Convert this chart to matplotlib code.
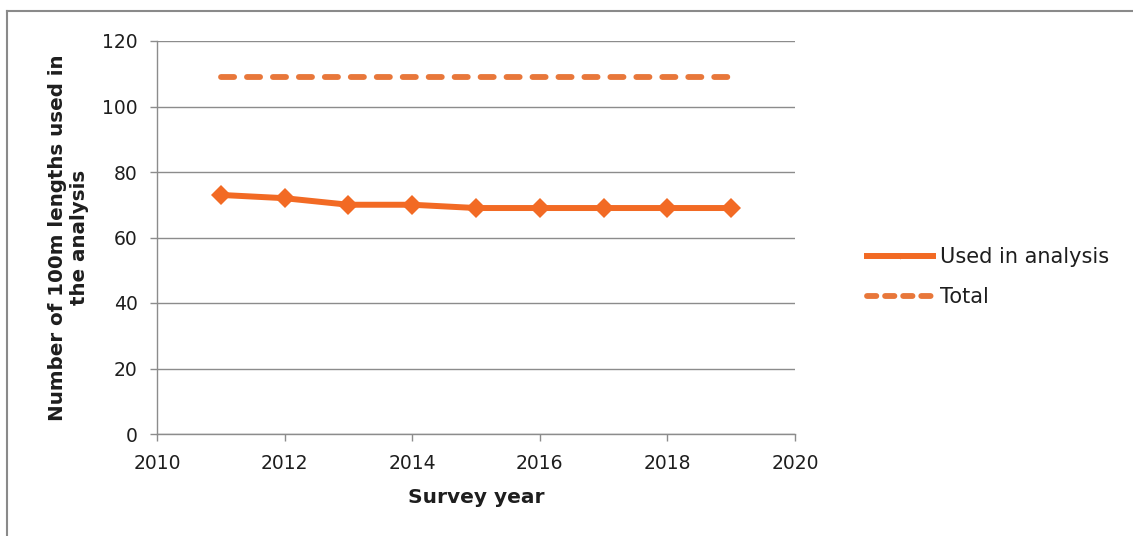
import matplotlib
matplotlib.use("Agg")
import matplotlib.pyplot as plt
from matplotlib.lines import Line2D

# Survey data
years = [2011, 2012, 2013, 2014, 2015, 2016, 2017, 2018, 2019]
used_in_analysis = [73, 72, 70, 70, 69, 69, 69, 69, 69]
total_lengths = [109, 109, 109, 109, 109, 109, 109, 109, 109]

x_ticks = [2010, 2012, 2014, 2016, 2018, 2020]
y_ticks = [0, 20, 40, 60, 80, 100, 120]

used_color = "#F26A24"
total_color = "#E8773A"
grid_color = "#8c8c8c"
text_color = "#1e1e1e"

plt.rcParams["font.family"] = ["DejaVu Sans"]

W, H = 1133, 536
fig = plt.figure(figsize=(W / 100, H / 100), dpi=100)
fig.patch.set_facecolor("white")

# Chart border (top and left edges)
fig.add_artist(Line2D([6.5 / W, 6.5 / W], [0, 1 - 11 / H], transform=fig.transFigure,
                      color="#8a8a8a", lw=1.5))
fig.add_artist(Line2D([6.5 / W, 1], [1 - 11 / H, 1 - 11 / H], transform=fig.transFigure,
                      color="#8a8a8a", lw=1.5))

ax = fig.add_axes([157 / W, 1 - 434 / H, (795 - 157) / W, (434 - 41) / H])

ax.plot(years, total_lengths, color=total_color, lw=4.2, ls=(0, (2.25, 2.2)),
        dash_capstyle="round", label="Total", zorder=3)
ax.plot(years, used_in_analysis, color=used_color, lw=4.3, marker="D", ms=10,
        markeredgewidth=0, label="Used in analysis", zorder=4)

ax.set_xlim(2010, 2020)
ax.set_ylim(0, 120)
ax.set_xticks(x_ticks)
ax.set_yticks(y_ticks)
ax.tick_params(axis="both", direction="out", length=5, width=1, color=grid_color,
               labelsize=13.5, labelcolor=text_color)
ax.tick_params(axis="x", pad=9.5)
ax.tick_params(axis="y", pad=9)

ax.grid(axis="y", color=grid_color, lw=1)
ax.set_axisbelow(True)
for side in ("top", "right"):
    ax.spines[side].set_visible(False)
for side in ("left", "bottom"):
    ax.spines[side].set_color(grid_color)
    ax.spines[side].set_linewidth(1)

ax.set_xlabel("Survey year", fontsize=14.5, fontweight="bold", color=text_color, labelpad=10.5)
ax.set_ylabel("Number of 100m lengths used in\nthe analysis", fontsize=14.3,
              fontweight="bold", color=text_color, labelpad=9, linespacing=1.2)

handles = [
    Line2D([], [], color=used_color, lw=4.3, marker="D", ms=3, markeredgewidth=0),
    Line2D([], [], color=total_color, lw=4.2, ls=(0, (1.6, 1.5)), dash_capstyle="round"),
]
fig.legend(handles, ["Used in analysis", "Total"], loc="center left",
           bbox_to_anchor=(848 / W, 1 - 277 / H), frameon=False, fontsize=15,
           handlelength=3.2, handletextpad=0.3, labelspacing=0.95, labelcolor=text_color)

fig.savefig("out.png", dpi=100, facecolor="white")
